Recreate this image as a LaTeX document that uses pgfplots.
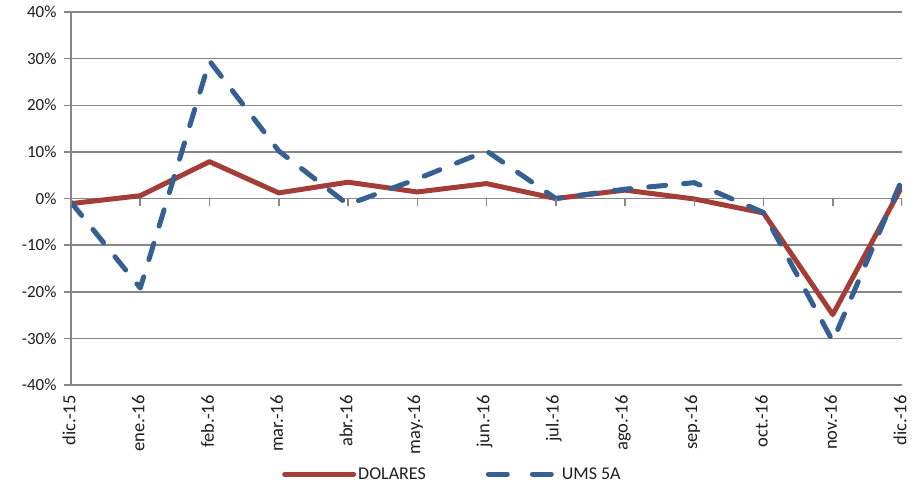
\documentclass[border=0pt]{standalone}
\usepackage{pgfplots}
\pgfplotsset{compat=1.18}
\usepackage{fontspec}
\setmainfont{Carlito}
\definecolor{dred}{RGB}{162,61,55}
\definecolor{dblue}{RGB}{55,96,146}
\definecolor{gridg}{RGB}{134,134,134}
\definecolor{txt}{RGB}{30,30,30}
\begin{document}
\begin{tikzpicture}
\useasboundingbox (-71pt,-98pt) rectangle (851pt,385pt);
\begin{axis}[
 scale only axis, width=831pt, height=373pt, at={(0pt,0pt)}, anchor=south west,
 xmin=0, xmax=12, ymin=-40, ymax=40,
 xtick={0,...,12},
 xticklabels={dic.-15,ene.-16,feb.-16,mar.-16,abr.-16,may.-16,jun.-16,jul.-16,ago.-16,sep.-16,oct.-16,nov.-16,dic.-16},
 ytick={-40,-30,-20,-10,0,10,20,30,40},
 yticklabels={-40\%,-30\%,-20\%,-10\%,0\%,10\%,20\%,30\%,40\%},
 ymajorgrids, grid style={gridg, line width=1.5pt},
 axis x line*=bottom, axis y line*=left,
 x axis line style={draw=none}, y axis line style={gridg,line width=1.5pt,-},
 xtick style={draw=none}, ytick style={gridg,line width=1.5pt},
 major tick length=7pt, tick align=outside,
 tick label style={font=\fontsize{17}{20}\selectfont, text=txt},
 yticklabel style={xshift=-4pt},
 xticklabel style={rotate=90, anchor=east, font=\fontsize{18.5}{20}\selectfont, yshift=2pt},
 legend style={at={(0.459,-0.239)}, anchor=center, draw=none, fill=none,
   legend columns=2, font=\fontsize{18}{20}\selectfont, text=txt,
   /tikz/every even column/.append style={column sep=58pt}},
 legend image code/.code={\draw[#1] (2.5pt,0pt) -- (71.5pt,0pt);},
]
\addplot[dred, line width=5pt, line join=round, line cap=round] coordinates {
(0,-1.1) (1,0.6) (2,7.9) (3,1.2) (4,3.5) (5,1.4) (6,3.2) (7,0) (8,1.8) (9,-0.1) (10,-3.1) (11,-24.9) (12,2.6)};
\addlegendentry{DOLARES}
\addplot[dblue, line width=5pt, line join=round, line cap=round, dash pattern=on 17pt off 18pt,
  legend image code/.code={\draw[dblue,line width=5pt,line cap=round,dash pattern=on 19pt off 25pt] (2.5pt,0pt) -- (71.5pt,0pt);}] coordinates {
(0,-0.8) (1,-19.2) (2,29.5) (3,10.2) (4,-1.3) (5,4.2) (6,10.2) (7,0) (8,2.0) (9,3.4) (10,-3.0) (11,-30.6) (12,4.1)};
\addlegendentry{UMS 5A}
\pgfplotsinvokeforeach{0,...,12}{\draw[gridg,line width=1.5pt] (axis cs:#1,0) -- ++(0pt,-7pt);}
\end{axis}
\end{tikzpicture}
\end{document}
